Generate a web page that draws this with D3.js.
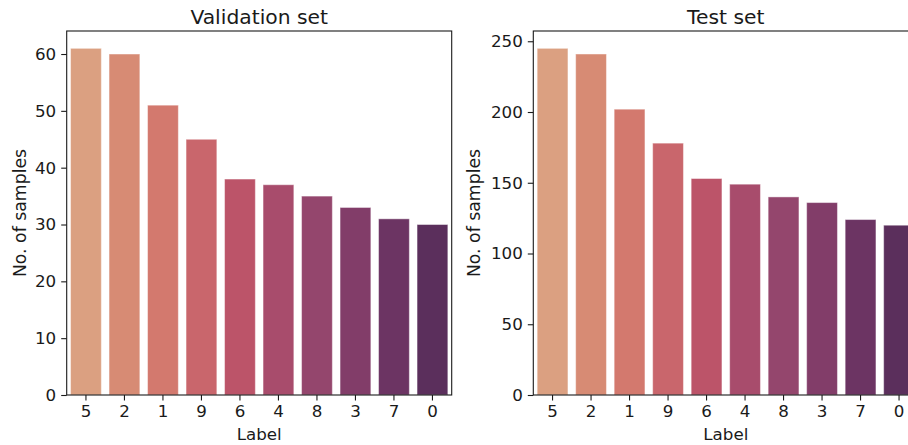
<!DOCTYPE html>
<html>
<head>
<meta charset="utf-8">
<script src="https://cdn.jsdelivr.net/npm/d3@7"></script>
<style>
  html, body { margin: 0; padding: 0; background: #fff; overflow: hidden; }
  svg { display: block; }
  text { font-family: "DejaVu Sans", sans-serif; fill: #1a1a1a; }
</style>
</head>
<body>
<svg id="chart" width="908" height="445"></svg>
<script>
// ---- data ----
const labels = ["5", "2", "1", "9", "6", "4", "8", "3", "7", "0"];
const valCounts = [61, 60, 51, 45, 38, 37, 35, 33, 31, 30];
const testCounts = [245, 241, 202, 178, 153, 149, 140, 136, 124, 120];
const valTicks = [0, 10, 20, 30, 40, 50, 60];
const testTicks = [0, 50, 100, 150, 200, 250];
const barColors = ["#dba081", "#d78b74", "#d3796e", "#c9666c", "#bc5469",
                   "#a84c6c", "#94466d", "#823d69", "#6c3463", "#5b2f5c"];
const titles = ["Validation set", "Test set"];
const xLabel = "Label";
const yLabel = "No. of samples";

const svg = d3.select("#chart");
const plotTop = 31, plotBottom = 395;

function panel(left, right, counts, ticks, title, yLabelX) {
  const g = svg.append("g");
  const x = d3.scaleBand().domain(labels).range([left, right])
    .paddingInner(0.2).paddingOuter(0.1);
  const yMax = d3.max(counts) * 1.05;
  const y = d3.scaleLinear().domain([0, yMax]).range([plotBottom, plotTop]);

  g.selectAll("rect.bar").data(labels).enter().append("rect")
    .attr("class", "bar")
    .attr("x", d => x(d))
    .attr("width", x.bandwidth())
    .attr("y", (d, i) => y(counts[i]))
    .attr("height", (d, i) => y(0) - y(counts[i]))
    .attr("fill", (d, i) => barColors[i])
    .attr("stroke", "rgba(255,255,255,0.45)")
    .attr("stroke-width", 1);

  // frame
  g.append("rect")
    .attr("x", left).attr("y", plotTop)
    .attr("width", right - left).attr("height", plotBottom - plotTop)
    .attr("fill", "none").attr("stroke", "#1a1a1a").attr("stroke-width", 1.1);

  const yAxis = d3.axisLeft(y).tickValues(ticks).tickSize(5.5).tickPadding(5);
  const ya = g.append("g").attr("transform", `translate(${left},0)`).call(yAxis);
  ya.select(".domain").remove();
  ya.selectAll("line").attr("stroke", "#1a1a1a").attr("stroke-width", 1.1);
  ya.selectAll("text").attr("font-size", "16.7px").attr("fill", "#1a1a1a")
    .attr("font-family", "DejaVu Sans, sans-serif");

  const xAxis = d3.axisBottom(x).tickSize(5.5).tickPadding(5);
  const xa = g.append("g").attr("transform", `translate(0,${plotBottom})`).call(xAxis);
  xa.select(".domain").remove();
  xa.selectAll("line").attr("stroke", "#1a1a1a").attr("stroke-width", 1.1);
  xa.selectAll("text").attr("font-size", "16.7px").attr("fill", "#1a1a1a")
    .attr("font-family", "DejaVu Sans, sans-serif");

  g.append("text")
    .attr("x", (left + right) / 2).attr("y", 24)
    .attr("text-anchor", "middle").attr("font-size", "20.3px")
    .text(title);

  g.append("text")
    .attr("x", (left + right) / 2).attr("y", 440)
    .attr("text-anchor", "middle").attr("font-size", "16.7px")
    .text(xLabel);

  g.append("text")
    .attr("transform", `translate(${yLabelX},${(plotTop + plotBottom) / 2}) rotate(-90)`)
    .attr("text-anchor", "middle").attr("font-size", "17.3px")
    .text(yLabel);
}

panel(66.7, 451.7, valCounts, valTicks, titles[0], 25.5);
panel(533.3, 918.3, testCounts, testTicks, titles[1], 479.5);
</script>
</body>
</html>
